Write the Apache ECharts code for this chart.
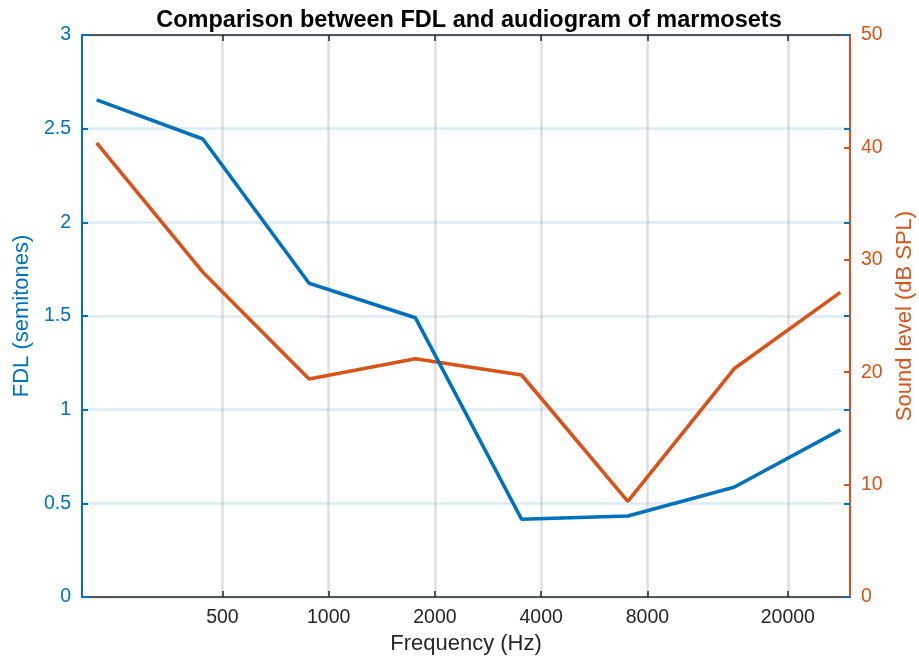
<!DOCTYPE html>
<html>
<head>
<meta charset="utf-8">
<script src="https://cdn.jsdelivr.net/npm/echarts@6/dist/echarts.min.js"></script>
<style>
  html, body { margin: 0; padding: 0; background: #fff; }
  #chart { width: 919px; height: 661px; }
</style>
</head>
<body>
<div id="chart"></div>
<script>
// Test frequencies (Hz), one octave apart starting at A3
const frequencies = [220, 440, 880, 1760, 3520, 7040, 14080, 28160];
// Frequency difference limen, semitones
const fdlSemitones = [2.654, 2.445, 1.675, 1.491, 0.415, 0.432, 0.586, 0.892];
// Hearing threshold, dB SPL
const soundLevelDb = [40.4, 28.9, 19.4, 21.2, 19.75, 8.5, 20.3, 27.1];
// Tick values for the frequency axis
const freqTicks = [500, 1000, 2000, 4000, 8000, 20000];

const BLUE = '#0072BD';
const ORANGE = '#D95319';
const DARK = '#262626';
const FONT = 'Liberation Sans';
const TICK_SIZE = 19.5;
const NAME_SIZE = 22;

const chart = echarts.init(document.getElementById('chart'));

const xBase = {
  type: 'log',
  logBase: 2,
  min: 200,
  max: 30000,
  axisLine: { show: true, onZero: false, lineStyle: { color: DARK, width: 1.5 } },
  axisTick: { show: true, inside: true, length: 6, customValues: freqTicks,
              lineStyle: { color: DARK, width: 1.5 } },
  minorTick: { show: false },
  minorSplitLine: { show: false }
};

chart.setOption({
  animation: false,
  title: {
    text: 'Comparison between FDL and audiogram of marmosets',
    left: 464, top: 4, textAlign: 'center',
    textStyle: { fontFamily: FONT, fontSize: 23.5, fontWeight: 'bold', color: '#000' }
  },
  grid: { left: 82, right: 69, top: 35, bottom: 64, containLabel: false,
          outerBoundsMode: 'none' },
  xAxis: [
    Object.assign({}, xBase, {
      position: 'bottom',
      name: 'Frequency (Hz)',
      nameLocation: 'middle',
      nameGap: 29,
      nameTextStyle: { fontFamily: FONT, fontSize: NAME_SIZE, color: DARK },
      axisLabel: { show: true, customValues: freqTicks, margin: 11,
                   fontFamily: FONT, fontSize: TICK_SIZE, color: DARK,
                   formatter: v => String(v) },
      splitLine: { show: true, lineStyle: { color: 'rgba(38,38,38,0.15)', width: 2.5 } }
    }),
    Object.assign({}, xBase, {
      position: 'top',
      axisLabel: { show: false, customValues: freqTicks },
      splitLine: { show: false }
    })
  ],
  yAxis: [
    {
      type: 'value', position: 'left', min: 0, max: 3, interval: 0.5,
      name: 'FDL (semitones)', nameLocation: 'middle', nameGap: 49,
      nameTextStyle: { fontFamily: FONT, fontSize: NAME_SIZE, color: BLUE },
      axisLine: { show: true, lineStyle: { color: BLUE, width: 2 } },
      axisTick: { show: true, inside: true, length: 6, lineStyle: { color: BLUE, width: 2 } },
      axisLabel: { margin: 11, fontFamily: FONT, fontSize: TICK_SIZE, color: BLUE },
      splitLine: { show: true, lineStyle: { color: 'rgba(0,114,189,0.14)', width: 2.5 } }
    },
    {
      type: 'value', position: 'right', min: 0, max: 50, interval: 10,
      name: 'Sound level (dB SPL)', nameLocation: 'middle', nameGap: 41,
      nameTextStyle: { fontFamily: FONT, fontSize: NAME_SIZE, color: ORANGE },
      axisLine: { show: true, lineStyle: { color: ORANGE, width: 2 } },
      axisTick: { show: true, inside: true, length: 6, lineStyle: { color: ORANGE, width: 2 } },
      axisLabel: { margin: 11, fontFamily: FONT, fontSize: TICK_SIZE, color: ORANGE },
      splitLine: { show: false }
    },
    {
      // FDL ticks repeated along the right edge
      type: 'value', position: 'right', min: 0, max: 3, interval: 0.5,
      axisLine: { show: false },
      axisTick: { show: true, inside: true, length: 6, lineStyle: { color: BLUE, width: 2 } },
      axisLabel: { show: false },
      splitLine: { show: false }
    }
  ],
  series: [
    {
      name: 'FDL', type: 'line', xAxisIndex: 0, yAxisIndex: 0,
      data: frequencies.map((f, i) => [f, fdlSemitones[i]]),
      showSymbol: false, symbol: 'none',
      lineStyle: { color: BLUE, width: 3.6 }, itemStyle: { color: BLUE }, z: 3
    },
    {
      name: 'Audiogram', type: 'line', xAxisIndex: 0, yAxisIndex: 1,
      data: frequencies.map((f, i) => [f, soundLevelDb[i]]),
      showSymbol: false, symbol: 'none',
      lineStyle: { color: ORANGE, width: 3.6 }, itemStyle: { color: ORANGE }, z: 2
    }
  ]
});
</script>
</body>
</html>
